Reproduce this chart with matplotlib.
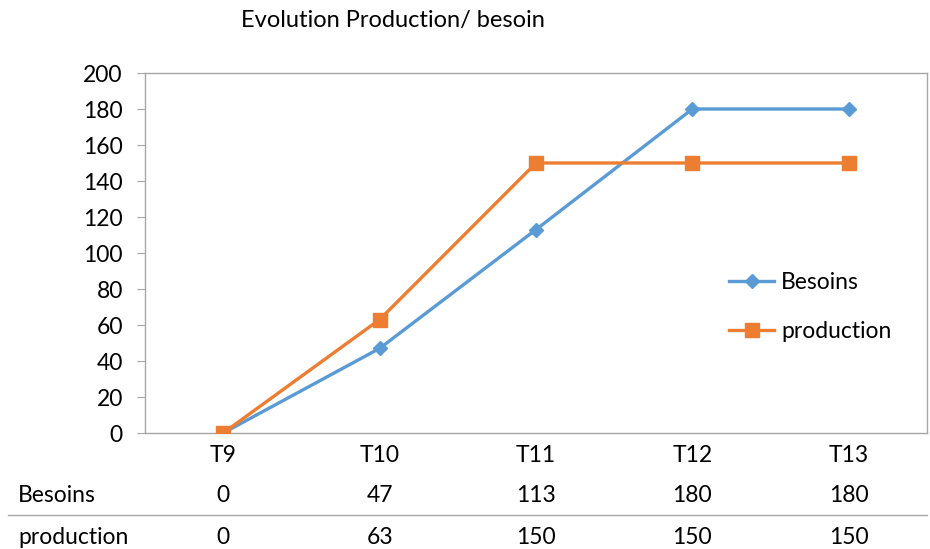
import matplotlib.pyplot as plt
import matplotlib.transforms as mtransforms

plt.rcParams['font.family'] = ['Lato', 'DejaVu Sans']

categories = ['T9', 'T10', 'T11', 'T12', 'T13']
besoins = [0, 47, 113, 180, 180]
production = [0, 63, 150, 150, 150]

blue = '#5B9BD5'
orange = '#ED7D31'
grey = '#A6A6A6'
fs = 16.5

fig = plt.figure(figsize=(9.3, 5.49), dpi=100)
ax = fig.add_axes([145 / 930, 1 - 433 / 549, 782 / 930, 360 / 549])

x = list(range(len(categories)))
ax.plot(x, besoins, color=blue, lw=2.4, marker='D', ms=7, label='Besoins', zorder=3)
ax.plot(x, production, color=orange, lw=2.4, marker='s', ms=9.5, label='production', zorder=3)

ax.set_xlim(-0.5, len(categories) - 0.5)
ax.set_ylim(0, 200)
ax.set_yticks(range(0, 201, 20))
ax.set_xticks(x)
ax.set_xticklabels(categories)
ax.tick_params(axis='y', length=6, color=grey, labelsize=fs, pad=10)
ax.tick_params(axis='x', length=0, labelsize=fs, pad=9)
for s in ax.spines.values():
    s.set_color(grey)
    s.set_linewidth(1)

ax.legend(loc='center left', bbox_to_anchor=(0.72, 0.35), frameon=False,
          fontsize=fs, handlelength=2.0, labelspacing=1.2, handletextpad=0.3)

fig.text(393 / 930, 1 - 20 / 549, 'Evolution Production/ besoin', ha='center', va='center', fontsize=17)

# data table under the axis
trans = mtransforms.blended_transform_factory(ax.transData, fig.transFigure)
rows = [('Besoins', besoins, 495), ('production', production, 537)]
for name, vals, ypix in rows:
    yf = 1 - ypix / 549
    fig.text(18 / 930, yf, name, ha='left', va='center', fontsize=fs)
    for xi, v in zip(x, vals):
        ax.text(xi, yf, str(v), transform=trans, ha='center', va='center', fontsize=fs, clip_on=False)

fig.add_artist(plt.Line2D([8 / 930, 927 / 930], [1 - 515 / 549] * 2, color=grey, lw=1))

fig.savefig('out.png', dpi=100)
